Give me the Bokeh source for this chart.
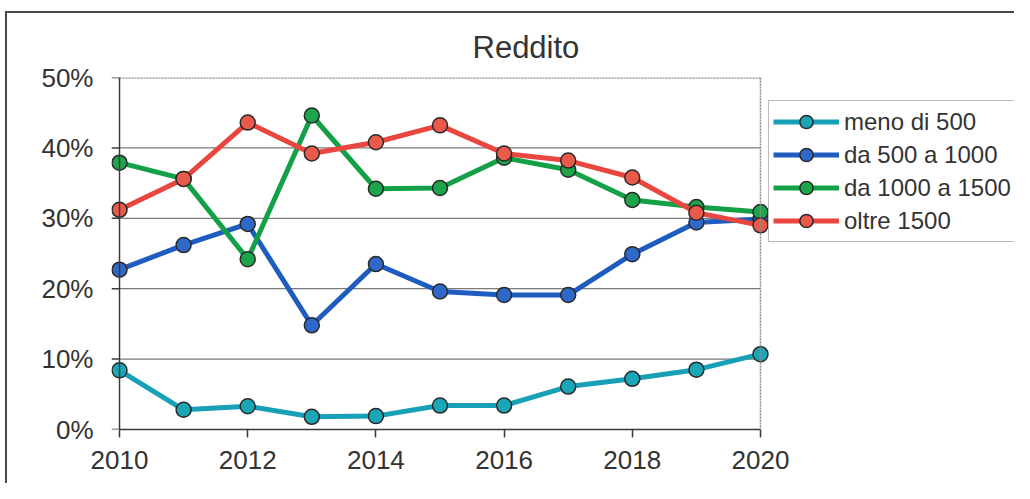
from bokeh.plotting import figure
from bokeh.models import (Legend, LegendItem, FixedTicker, PrintfTickFormatter,
                          Range1d, Span)
from bokeh.embed import file_html
from bokeh.resources import INLINE

# ---- data (percent) ----
years = [2010, 2011, 2012, 2013, 2014, 2015, 2016, 2017, 2018, 2019, 2020]
meno_di_500 = [8.4, 2.8, 3.3, 1.8, 1.9, 3.4, 3.4, 6.1, 7.2, 8.5, 10.7]
da_500_a_1000 = [22.7, 26.2, 29.2, 14.8, 23.5, 19.6, 19.1, 19.1, 24.9, 29.4, 29.9]
da_1000_a_1500 = [37.9, 35.6, 24.2, 44.6, 34.2, 34.3, 38.6, 36.9, 32.6, 31.6, 30.9]
oltre_1500 = [31.2, 35.6, 43.6, 39.2, 40.8, 43.2, 39.2, 38.2, 35.8, 30.8, 29.0]

series_labels = ["meno di 500", "da 500 a 1000", "da 1000 a 1500", "oltre 1500"]
series_values = [meno_di_500, da_500_a_1000, da_1000_a_1500, oltre_1500]
line_colors = ["#17A0B6", "#1F5CC0", "#13A046", "#E8463F"]
fill_colors = ["#1BA6B8", "#2E68C8", "#1DA54C", "#EA5A4B"]

y_ticks = [0, 10, 20, 30, 40, 50]
x_ticks = [2010, 2012, 2014, 2016, 2018, 2020]
title_text = "Reddito"

FONT = "Liberation Sans"
TXT = "#333333"
AX = "#3a3a3a"

# layout (pixels)
W, H = 1014, 483
left_px, data_w_px = 111, 657          # frame starts at left_px, data area width
pad = 0.125                            # years of padding so edge markers are not clipped
px_per_year = data_w_px / (years[-1] - years[0] + 2 * pad)
x_end = years[0] - pad + (W - left_px) / px_per_year   # frame extends to the right edge (room for legend)

p = figure(width=W, height=H, output_backend="svg", toolbar_location=None,
           x_range=Range1d(years[0] - pad, x_end),
           y_range=Range1d(y_ticks[0], y_ticks[-1]),
           min_border_left=left_px, min_border_right=0,
           min_border_top=77, min_border_bottom=54,
           background_fill_color="white", border_fill_alpha=0)
p.styles = {
    "background-color": "white",
    "background-image": "linear-gradient(#4a4a4a,#4a4a4a), linear-gradient(#4a4a4a,#4a4a4a)",
    "background-repeat": "no-repeat",
    "background-size": "2px calc(100% - 11px), calc(100% - 5px) 2px",
    "background-position": "5px 11px, 5px 11px",
}
p.outline_line_color = None

# title
p.title.text = title_text
p.title.text_font = FONT
p.title.text_font_size = "31px"
p.title.text_font_style = "normal"
p.title.text_color = TXT
p.title.align = "left"
p.title.offset = 361
p.title.standoff = 26

# grids (manual so they stop at the data bounds)
p.xgrid.visible = False
p.ygrid.visible = False
inner = y_ticks[1:-1]
p.multi_line(xs=[[years[0], years[-1]] for _ in inner], ys=[[t, t] for t in inner],
             line_color="#7a7a7a", line_width=1.3)
p.line(x=[years[0], years[-1]], y=[y_ticks[-1], y_ticks[-1]],
       line_color="#8a8a8a", line_width=2.5, line_dash="2 1")
p.add_layout(Span(location=years[-1], dimension="height", line_color="#8a8a8a",
                  line_width=1.5, line_dash="2 1"))
# y axis line and its outward ticks at the first year
p.add_layout(Span(location=years[0], dimension="height", line_color=AX,
                  line_width=1.5))
p.segment(x0=[years[0] - pad] * len(y_ticks), x1=[years[0]] * len(y_ticks),
          y0=y_ticks, y1=y_ticks, line_color=AX, line_width=1.5)

# axes
xa = p.xaxis[0]
xa.ticker = FixedTicker(ticks=x_ticks)
xa.bounds = (years[0], years[-1])
xa.axis_line_color = AX
xa.axis_line_width = 1.5
xa.major_tick_line_color = AX
xa.major_tick_line_width = 1.5
xa.major_tick_in = 0
xa.major_tick_out = 8
xa.major_label_standoff = 13

ya = p.yaxis[0]
ya.ticker = FixedTicker(ticks=y_ticks)
ya.formatter = PrintfTickFormatter(format="%d%%")
ya.axis_line_color = None
ya.major_tick_line_color = None
ya.major_tick_in = 0
ya.major_tick_out = 0
ya.major_label_standoff = 18
for ax in (xa, ya):
    ax.minor_tick_line_color = None
    ax.major_label_text_font = FONT
    ax.major_label_text_font_size = "26px"
    ax.major_label_text_color = TXT

# series
items = []
for lab, vals, lc, fc in zip(series_labels, series_values, line_colors, fill_colors):
    r1 = p.line(years, vals, line_color=lc, line_width=5)
    r2 = p.scatter(years, vals, marker="circle", size=15, fill_color=fc,
                   line_color="#2a2a2a", line_width=1.5)
    items.append(LegendItem(label=lab, renderers=[r1, r2]))

legend = Legend(items=items, location=(data_w_px, 187), orientation="vertical",
                label_text_font=FONT, label_text_font_size="24px",
                label_text_color=TXT, glyph_width=66, glyph_height=33,
                label_height=33, label_standoff=5, spacing=0, padding=4,
                margin=0, border_line_color="#777777", border_line_width=1.3,
                background_fill_color="white", background_fill_alpha=1.0)
p.add_layout(legend)

open("out.html", "w").write(file_html(p, INLINE))
